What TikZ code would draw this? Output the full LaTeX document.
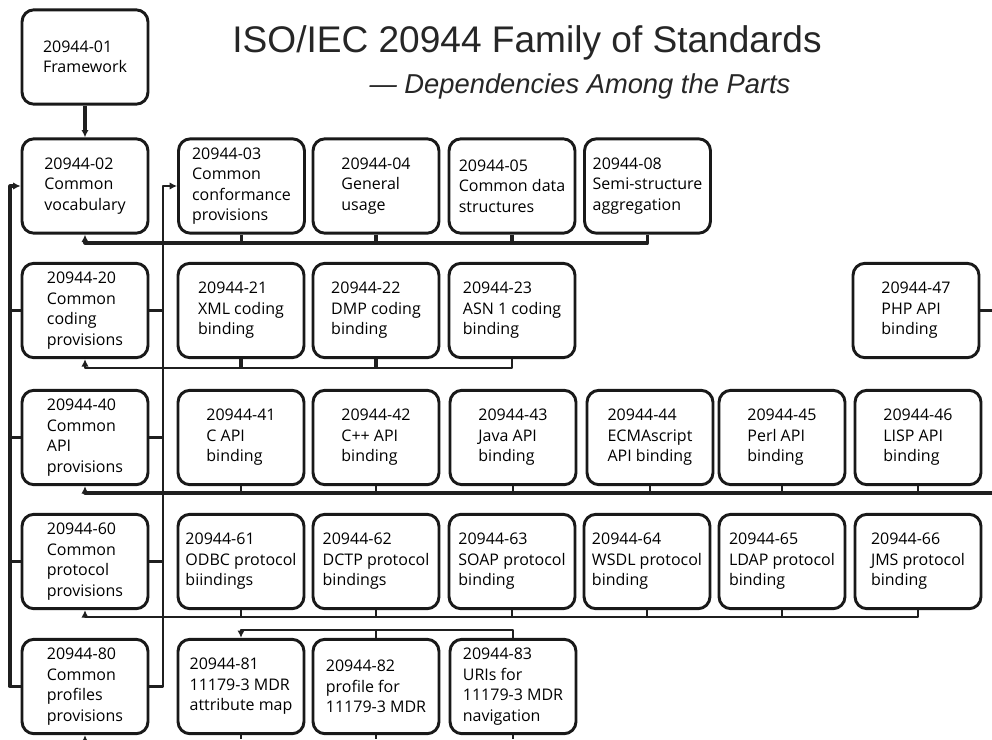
\documentclass[tikz,border=0pt]{standalone}
\usepackage{fontspec}
\setmainfont{Open Sans}
\newfontfamily\titlefont{Liberation Sans}
\usetikzlibrary{arrows.meta}
\newcommand\bxfont{\fontsize{12}{15.4}\selectfont}
\begin{document}
\begin{tikzpicture}[x=0.75pt,y=-0.75pt,
  box/.style={draw=black!90, line width=2.2pt, rounded corners=9pt, fill=white,
    minimum width=94.5pt, minimum height=70.8pt, align=left, inner sep=0pt,
    font=\bxfont, text=black},
  conn/.style={draw=black!88, line width=1.7pt, line join=round},
  thick conn/.style={conn, line width=2.3pt},
  arr/.style={-{Latex[length=5.5pt,width=5.5pt]}}]
\useasboundingbox[fill=white] (0,0) rectangle (992,739);

% title
\node[anchor=base, text=black!85, inner sep=0pt] (title) at (527,52)
  {\titlefont\fontsize{27.8}{33}\selectfont ISO/IEC 20944 Family of Standards};
\node[anchor=base, text=black!85, inner sep=0pt] (subtitle) at (580,93)
  {\titlefont\itshape\fontsize{20.5}{24}\selectfont — Dependencies Among the Parts};

% row 0
\node[box] (n01) at (85,57) {20944-01\\Framework};
% row 1
\node[box] (n02) at (85,186) {20944-02\\Common\\vocabulary};
\node[box] (n03) at (241.5,186) {20944-03\\Common\\conformance\\provisions};
\node[box] (n04) at (376,186) {20944-04\\General\\usage};
\node[box] (n05) at (512,186) {20944-05\\Common data\\structures};
\node[box] (n08) at (647.5,186) {20944-08\\Semi-structure\\aggregation};
% row 2
\node[box] (n20) at (85,310.5) {20944-20\\Common\\coding\\provisions};
\node[box] (n21) at (241,310.5) {20944-21\\XML coding\\binding};
\node[box] (n22) at (376,310.5) {20944-22\\DMP coding\\binding};
\node[box] (n23) at (512,310.5) {20944-23\\ASN 1 coding\\binding};
\node[box] (n47) at (916,310.5) {20944-47\\PHP API\\binding};
% row 3
\node[box] (n40) at (85,437.5) {20944-40\\Common\\API\\provisions};
\node[box] (n41) at (241,437.5) {20944-41\\C API\\binding};
\node[box] (n42) at (376,437.5) {20944-42\\C++ API\\binding};
\node[box] (n43) at (513,437.5) {20944-43\\Java API\\binding};
\node[box] (n44) at (650,437.5) {20944-44\\ECMAscript\\API binding};
\node[box] (n45) at (782,437.5) {20944-45\\Perl API\\binding};
\node[box] (n46) at (918,437.5) {20944-46\\LISP API\\binding};
% row 4
\node[box] (n60) at (85,561.5) {20944-60\\Common\\protocol\\provisions};
\node[box] (n61) at (241,561.5) {20944-61\\ODBC protocol\\biindings};
\node[box] (n62) at (376,561.5) {20944-62\\DCTP protocol\\bindings};
\node[box] (n63) at (512,561.5) {20944-63\\SOAP protocol\\binding};
\node[box] (n64) at (647,561.5) {20944-64\\WSDL protocol\\binding};
\node[box] (n65) at (782,561.5) {20944-65\\LDAP protocol\\binding};
\node[box] (n66) at (918,561.5) {20944-66\\JMS protocol\\binding};
% row 5
\node[box] (n80) at (85,686.5) {20944-80\\Common\\profiles\\provisions};
\node[box] (n81) at (241,686.5) {20944-81\\11179-3 MDR\\attribute map};
\node[box] (n82) at (376,686.5) {20944-82\\profile for\\11179-3 MDR};
\node[box] (n83) at (513,686.5) {20944-83\\URIs for\\11179-3 MDR\\navigation};

% helper coordinates
\coordinate (b1) at (0,243);
\coordinate (b2) at (0,368);
\coordinate (b3) at (0,493);
\coordinate (b4) at (0,617);
\coordinate (b5) at (0,630);
\coordinate (bot) at (0,739);
\coordinate (L) at (10,0);
\coordinate (R) at (163,0);
\coordinate (edge) at (992,0);

% framework -> vocabulary
\draw[thick conn,arr] (n01) -- (n02);

% row 1 bus
\draw[thick conn,arr] (n08.south) -- (n08.south|-b1) -- (n02.south|-b1) -- (n02.south);
\foreach \n in {n03,n04,n05} \draw[thick conn] (\n.south) -- (\n.south|-b1);

% row 2 bus
\draw[conn,arr] (n23.south) -- (n23.south|-b2) -- (n20.south|-b2) -- (n20.south);
\foreach \n in {n21,n22} \draw[thick conn] (\n.south) -- (\n.south|-b2);
\draw[conn] (n47.east) -- (n47.east-|edge);

% row 3 bus
\draw[thick conn,arr] (edge|-b3) -- (n40.south|-b3) -- (n40.south);
\foreach \n in {n41,n42,n43,n44,n45,n46} \draw[conn] (\n.south) -- (\n.south|-b3);

% row 4 bus
\draw[conn,arr] (n66.south) -- (n66.south|-b4) -- (n60.south|-b4) -- (n60.south);
\foreach \n in {n61,n62,n63,n64,n65} \draw[conn] (\n.south) -- (\n.south|-b4);

% row 5 top connector
\draw[conn,arr] (n83.north) -- (n83.north|-b5) -- (n81.north|-b5) -- (n81.north);
\draw[conn] (n82.north) -- (n82.north|-b5);

% bottom stubs
\draw[conn,arr] (n80.south|-bot) -- (n80.south);
\foreach \n in {n81,n82,n83} \draw[conn] (\n.south) -- (\n.south|-bot);

% left vertical to vocabulary
\draw[thick conn,arr] (n80.west) -- (n80.west-|L) -- (n02.west-|L) -- (n02.west);
\foreach \n in {n20,n40,n60} \draw[thick conn] (\n.west) -- (\n.west-|L);

% right vertical to conformance
\draw[conn,arr] (n80.east) -- (n80.east-|R) -- (n03.west-|R) -- (n03.west);
\foreach \n in {n20,n40,n60} \draw[conn] (\n.east) -- (\n.east-|R);
\end{tikzpicture}
\end{document}
